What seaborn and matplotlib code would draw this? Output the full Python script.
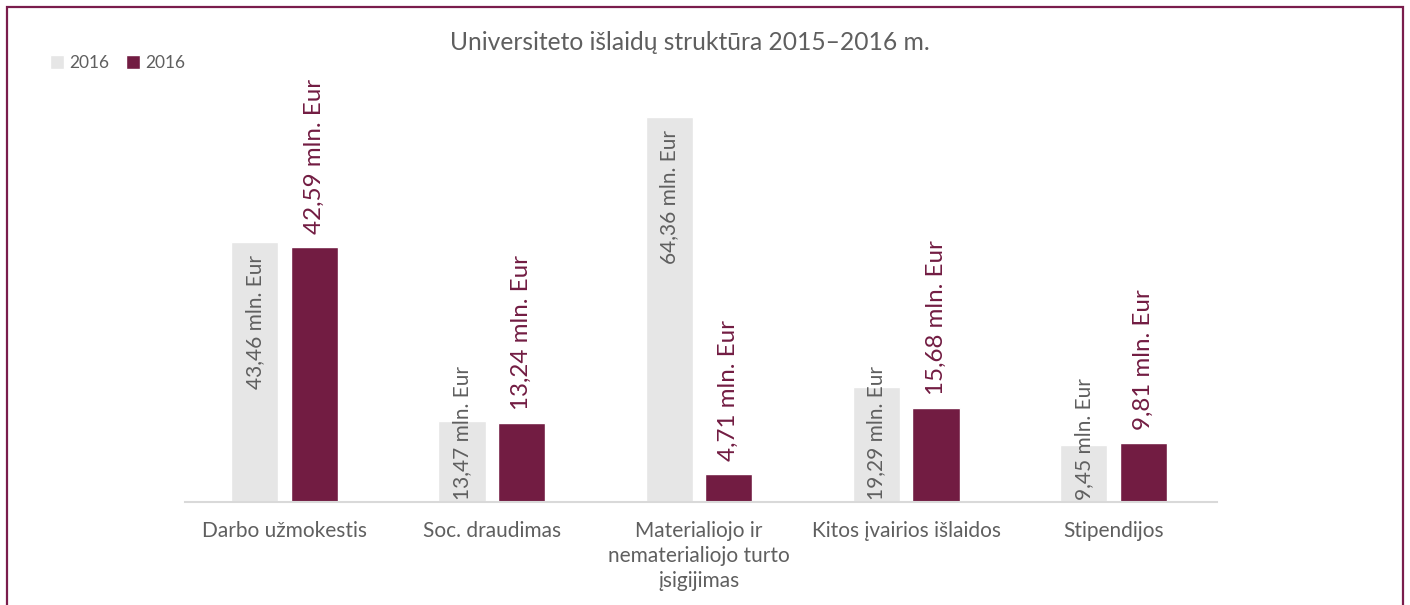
import matplotlib
matplotlib.use("Agg")
import matplotlib.pyplot as plt
from matplotlib.patches import Rectangle, Patch
import pandas as pd
import seaborn as sns

# Expense categories and spending (mln. Eur) per year
categories = [
    "Darbo užmokestis",
    "Soc. draudimas",
    "Materialiojo ir\nnematerialiojo turto\nįsigijimas",
    "Kitos įvairios išlaidos",
    "Stipendijos",
]
years = ["2015", "2016"]
values_2015 = [43.46, 13.47, 64.36, 19.29, 9.45]
values_2016 = [42.59, 13.24, 4.71, 15.68, 9.81]
legend_labels = ["2016", "2016"]
title = "Universiteto išlaidų struktūra 2015–2016 m."

GREY_BAR = "#e6e6e6"
MAROON = "#721c42"
TEXT_GREY = "#5f5f5f"

df = pd.DataFrame({
    "category": categories * 2,
    "year": [years[0]] * len(categories) + [years[1]] * len(categories),
    "value": values_2015 + values_2016,
})

sns.set_theme(style="white")
plt.rcParams["font.family"] = ["Lato", "DejaVu Sans"]

fig = plt.figure(figsize=(14.1, 6.05), dpi=100)
ax = fig.add_axes([181 / 1410, 103 / 605, 1036 / 1410, 422 / 605])

sns.barplot(
    data=df, x="category", y="value", hue="year", order=categories,
    hue_order=years, palette=[GREY_BAR, MAROON], width=0.575, gap=0.21,
    saturation=1, legend=False, ax=ax,
)

ax.set_xlim(-0.5, len(categories) - 0.5)
ax.set_ylim(0, 70.54)
ax.set_xlabel("")
ax.set_ylabel("")
ax.set_yticks([])
for side in ("left", "right", "top"):
    ax.spines[side].set_visible(False)
ax.spines["bottom"].set_color("#d9d9d9")
ax.spines["bottom"].set_linewidth(1.5)
ax.spines["bottom"].set_bounds(-0.48, len(categories) - 0.5)
ax.tick_params(axis="x", length=0, pad=14, labelsize=15, labelcolor=TEXT_GREY)
for lab in ax.get_xticklabels():
    lab.set_linespacing(1.3)
    lab.set_verticalalignment("top")

# 2016 values sit above their bars
for bar, val in zip(ax.containers[1], values_2016):
    xc = bar.get_x() + bar.get_width() / 2
    ax.annotate(
        f"{val:.2f}".replace(".", ",") + " mln. Eur",
        xy=(xc, val), xytext=(0, 9.5), textcoords="offset points",
        rotation=90, ha="center", va="bottom", fontsize=17.4, color=MAROON,
    )

# 2015 values sit inside the top of their bars, or rest on the baseline
fig.canvas.draw()
renderer = fig.canvas.get_renderer()
base_y = ax.transData.transform((0, 0))[1]
for bar, val in zip(ax.containers[0], values_2015):
    xc = bar.get_x() + bar.get_width() / 2
    txt = ax.annotate(
        f"{val:.2f}".replace(".", ",") + " mln. Eur",
        xy=(xc, val), xytext=(0, -9.5), textcoords="offset points",
        rotation=90, ha="center", va="top", fontsize=15, color=TEXT_GREY,
    )
    bb = txt.get_window_extent(renderer)
    if bb.y0 < base_y + 2:
        txt.xy = (xc, 0)
        txt.set_position((0, 1.5))
        txt.set_va("bottom")

fig.text(690 / 1410, 1 - 43 / 605, title, ha="center", va="center",
         fontsize=17.7, color=TEXT_GREY)

handles = [Patch(facecolor=GREY_BAR), Patch(facecolor=MAROON)]
fig.legend(
    handles, legend_labels, loc="center left",
    bbox_to_anchor=(43 / 1410, 1 - 63 / 605), ncol=2, frameon=False,
    fontsize=12.5, labelcolor=TEXT_GREY, handlelength=0.8, handleheight=0.8,
    handletextpad=0.3, columnspacing=1.0, borderaxespad=0,
)

# open-bottomed frame around the figure
fig.add_artist(Rectangle(
    (6.5 / 1410, -0.1), (1403 - 6.5) / 1410, 1.1 - 7 / 605,
    transform=fig.transFigure, fill=False, edgecolor="#7a1d4c",
    linewidth=1.6, clip_on=False,
))

fig.savefig("out.png", dpi=100)
